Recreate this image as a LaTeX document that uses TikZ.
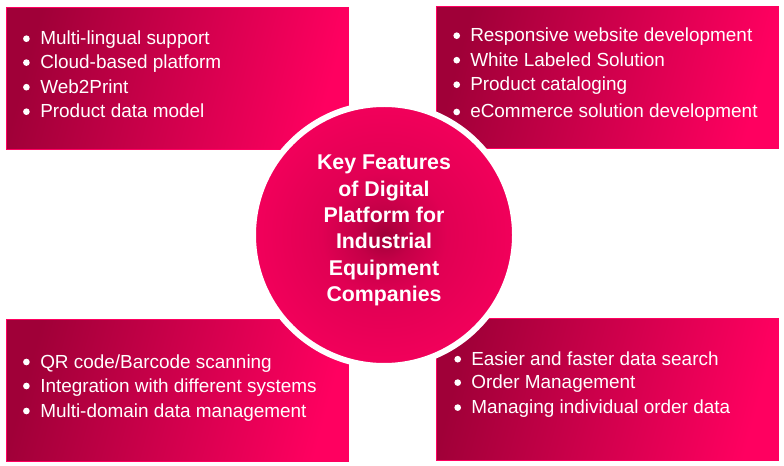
\documentclass[tikz,border=0pt]{standalone}
\usepackage{fontspec}
\setmainfont{Liberation Sans}
\definecolor{darkrose}{RGB}{160,0,56}
\definecolor{brightrose}{RGB}{255,0,96}
\pgfdeclareradialshading{hubshade}{\pgfpoint{0bp}{0bp}}{color(0bp)=(darkrose); color(5bp)=(darkrose!62!brightrose); color(12bp)=(darkrose!32!brightrose); color(24bp)=(darkrose!15!brightrose); color(50bp)=(darkrose!7!brightrose); color(60bp)=(darkrose!7!brightrose)}
\tikzset{
	featurebox/.style={draw=brightrose, line width=0.6pt, left color=darkrose, right color=brightrose, shading angle=75, minimum width=342.4*0.75pt, minimum height=141.6*0.75pt, inner sep=0pt},
	featuretext/.style={anchor=base west, text=white, font=\fontsize{14.2}{14}\selectfont, inner sep=0pt},
	featuredot/.style={circle, fill=white, inner sep=0pt, minimum size=5pt},
	hubcircle/.style={circle, draw=white, line width=4.5pt, shading=hubshade, minimum size=262*0.75pt, inner sep=0pt},
	hubtext/.style={align=center, text=white, inner sep=0pt, font=\fontsize{16}{19.8}\selectfont\bfseries}
}

\begin{document}
\begin{tikzpicture}[x=0.75pt, y=-0.75pt]
	\useasboundingbox (0,0) rectangle (784,466);

	\node[featurebox] (tl box) at (177.5,78.5) {};
	\node[featurebox] (tr box) at (607.5,77.5) {};
	\node[featurebox] (bl box) at (177.5,390.3) {};
	\node[featurebox] (br box) at (607.5,389.3) {};

	\foreach \i/\y/\itemtext in {1/44.7/Multi-lingual support, 2/68.6/Cloud-based platform, 3/93.2/Web2Print, 4/117.7/Product data model}
	{
		\node[featuredot] (tl dot \i) at (26.4,\y-6) {};
		\node[featuretext] (tl item \i) at (40,\y) {\itemtext};
	}
	\foreach \i/\y/\itemtext in {1/41.7/Responsive website development, 2/66.2/White Labeled Solution, 3/90.7/Product cataloging, 4/118/eCommerce solution development}
	{
		\node[featuredot] (tr dot \i) at (456.7,\y-6) {};
		\node[featuretext] (tr item \i) at (470,\y) {\itemtext};
	}
	\foreach \i/\y/\itemtext in {1/368/{QR code/Barcode scanning}, 2/392/Integration with different systems, 3/417/Multi-domain data management}
	{
		\node[featuredot] (bl dot \i) at (26.4,\y-6) {};
		\node[featuretext] (bl item \i) at (40,\y) {\itemtext};
	}
	\foreach \i/\y/\itemtext in {1/365.2/Easier and faster data search, 2/388.6/Order Management, 3/413.6/Managing individual order data}
	{
		\node[featuredot] (br dot \i) at (457.7,\y-6) {};
		\node[featuretext] (br item \i) at (471,\y) {\itemtext};
	}

	\node[hubcircle] (hub) at (384,235) {};
	\node[hubtext] (hub title) at (384,230.5) {Key Features\\of Digital\\Platform for\\Industrial\\Equipment\\Companies};
\end{tikzpicture}
\end{document}
